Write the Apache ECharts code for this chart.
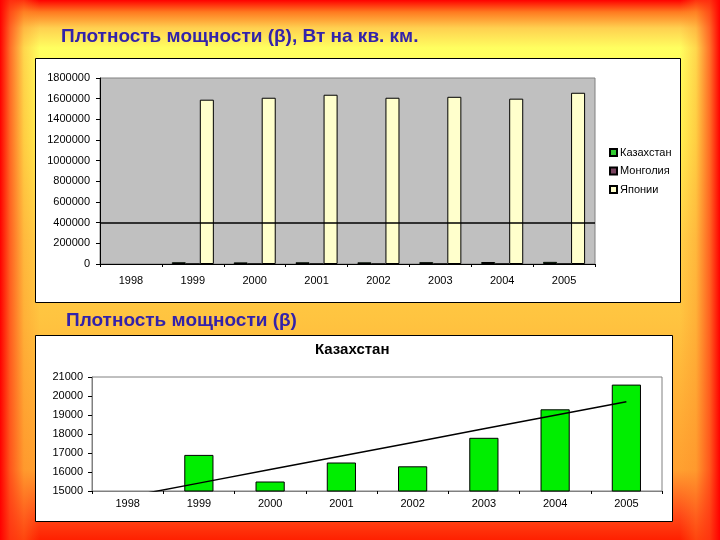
<!DOCTYPE html>
<html>
<head>
<meta charset="utf-8">
<script src="https://cdn.jsdelivr.net/npm/echarts@6/dist/echarts.min.js"></script>
<style>
html,body{margin:0;padding:0;}
body{
  width:720px;height:540px;overflow:hidden;
  background:
    linear-gradient(to right, rgba(255,0,0,1) 0px, rgba(255,60,20,0.75) 10px, rgba(255,140,40,0.35) 24px, rgba(255,170,50,0) 40px),
    linear-gradient(to left, rgba(255,0,0,1) 0px, rgba(255,60,20,0.75) 10px, rgba(255,140,40,0.35) 24px, rgba(255,170,50,0) 40px),
    linear-gradient(to bottom, #ff0000 0px, #ff7a20 12px, #ffd050 28px, #ffff60 48px, #fff050 140px, #ffd048 240px, #ffc440 318px, #ffa030 470px, #ff4a18 515px, #ff2000 540px);
}
#chart{width:720px;height:540px;}
</style>
</head>
<body>
<div id="chart"></div>
<script>
// ---- data ----
const years = ['1998','1999','2000','2001','2002','2003','2004','2005'];
const kazakhstan = [null, 16900, 15500, 16500, 16300, 17800, 19300, 20600];
const mongolia   = [null, 600, 600, 600, 600, 600, 600, 600];
const japan      = [null, 1590000, 1609000, 1638000, 1609000, 1618000, 1600000, 1657000];
const topLineValue = 400000;
const seriesNames = ['Казахстан', 'Монголия', 'Японии'];
const titleTop = 'Плотность мощности (β), Вт на кв. км.';
const titleBottom = 'Плотность мощности (β)';
const chartTitleBottom = 'Казахстан';

// linear trend of Kazakhstan values (Excel-style trendline)
function trend(vals){
  const pts = [];
  vals.forEach((v,i)=>{ if(v!=null) pts.push([i,v]); });
  const n = pts.length;
  const mx = pts.reduce((s,p)=>s+p[0],0)/n;
  const my = pts.reduce((s,p)=>s+p[1],0)/n;
  let num=0, den=0;
  pts.forEach(p=>{ num += (p[0]-mx)*(p[1]-my); den += (p[0]-mx)*(p[0]-mx); });
  const b = num/den, a = my - b*mx;
  return vals.map((v,i)=>a+b*i);
}
const kazTrend = trend(kazakhstan);

const FONT = 'Liberation Sans';
const plain = v => String(v);
const chart = echarts.init(document.getElementById('chart'), null, {renderer:'canvas'});
chart.setOption({
  backgroundColor: 'transparent',
  animation: false,
  graphic: [
    {type:'rect', z:-10, shape:{x:35.5,y:58.5,width:645,height:244}, style:{fill:'#ffffff', stroke:'#000', lineWidth:1}},
    {type:'rect', z:-10, shape:{x:35.5,y:335.5,width:637,height:186}, style:{fill:'#ffffff', stroke:'#000', lineWidth:1}}
  ],
  title: [
    {text: titleTop, left: 56, top: 22, textStyle:{fontFamily:FONT, fontWeight:'bold', fontSize:19, color:'#3322aa'}},
    {text: titleBottom, left: 61, top: 306, textStyle:{fontFamily:FONT, fontWeight:'bold', fontSize:19, color:'#3322aa'}},
    {text: chartTitleBottom, left: 310, top: 337, textStyle:{fontFamily:FONT, fontWeight:'bold', fontSize:15, color:'#000'}}
  ],
  legend: {
    data: seriesNames,
    orient: 'vertical', left: 604, top: 142,
    itemWidth: 7, itemHeight: 7, itemGap: 7.5, icon: 'rect',
    textStyle: {fontFamily:FONT, fontSize:11, color:'#000', padding:[0,0,0,-2]}
  },
  grid: [
    {left:100, top:78, width:495, height:186, show:true, backgroundColor:'#c0c0c0', borderColor:'#808080', borderWidth:1},
    {left:92, top:377, width:570, height:114, show:true, backgroundColor:'#ffffff', borderColor:'#808080', borderWidth:1}
  ],
  xAxis: [
    {type:'category', gridIndex:0, data: years,
     axisLine:{show:true, lineStyle:{color:'#000'}},
     axisTick:{show:true, length:3, lineStyle:{color:'#000'}},
     axisLabel:{fontFamily:FONT, fontSize:11, color:'#000', margin:11}},
    {type:'category', gridIndex:1, data: years,
     axisLine:{show:true, lineStyle:{color:'#808080'}},
     axisTick:{show:true, length:3, lineStyle:{color:'#000'}},
     axisLabel:{fontFamily:FONT, fontSize:11, color:'#000', margin:7}}
  ],
  yAxis: [
    {type:'value', gridIndex:0, min:0, max:1800000, interval:200000,
     axisLine:{show:true, lineStyle:{color:'#000'}},
     axisTick:{show:true, length:4, lineStyle:{color:'#000'}},
     splitLine:{show:false},
     axisLabel:{fontFamily:FONT, fontSize:11, color:'#000', margin:10, formatter: plain}},
    {type:'value', gridIndex:1, min:15000, max:21000, interval:1000,
     axisLine:{show:true, lineStyle:{color:'#808080'}},
     axisTick:{show:true, length:4, lineStyle:{color:'#000'}},
     splitLine:{show:false},
     axisLabel:{fontFamily:FONT, fontSize:11, color:'#000', margin:9, formatter: plain}}
  ],
  series: [
    {name: seriesNames[0], type:'bar', xAxisIndex:0, yAxisIndex:0, data: kazakhstan,
     barGap:'0%', barCategoryGap:'32%',
     itemStyle:{color:'#33cc33', borderColor:'#000', borderWidth:1}},
    {name: seriesNames[1], type:'bar', xAxisIndex:0, yAxisIndex:0, data: mongolia,
     barGap:'0%', barCategoryGap:'32%',
     itemStyle:{color:'#7a4460', borderColor:'#000', borderWidth:1}},
    {name: seriesNames[2], type:'bar', xAxisIndex:0, yAxisIndex:0, data: japan,
     barGap:'0%', barCategoryGap:'32%',
     itemStyle:{color:'#ffffcc', borderColor:'#000', borderWidth:1},
     markLine:{silent:true, symbol:['none','none'], label:{show:false},
       lineStyle:{color:'#000', width:1.5, type:'solid'},
       data:[{yAxis: topLineValue}]}},
    {name: 'Казахстан (β)', type:'bar', xAxisIndex:1, yAxisIndex:1, data: kazakhstan,
     barCategoryGap:'59%',
     itemStyle:{color:'#00ee00', borderColor:'#000', borderWidth:1}},
    {name: 'trend', type:'line', xAxisIndex:1, yAxisIndex:1, data: kazTrend,
     showSymbol:false, symbol:'none', clip:true,
     lineStyle:{color:'#000', width:1.5}}
  ]
});
</script>
</body>
</html>
